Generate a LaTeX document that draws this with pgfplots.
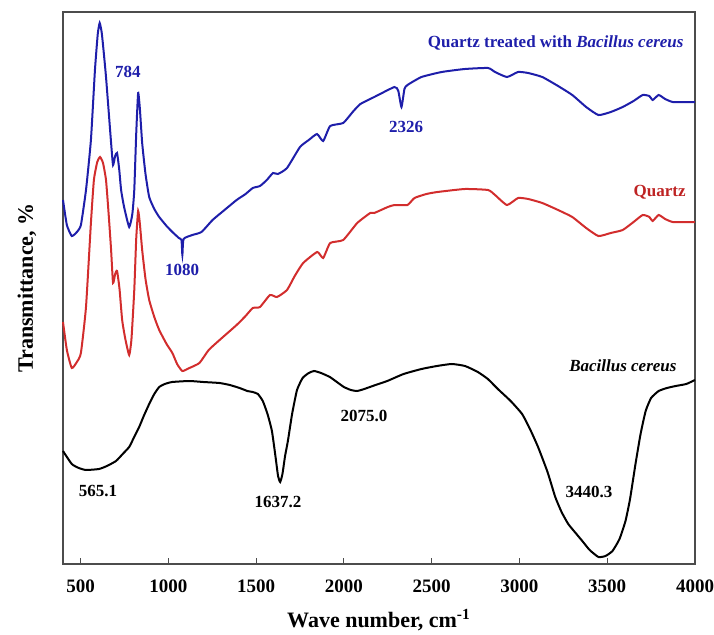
\documentclass[border=0pt]{standalone}
\usepackage{pgfplots}
\pgfplotsset{compat=1.18}
\usepackage{fontspec}
\setmainfont{Liberation Serif}
\definecolor{qblue}{RGB}{30,30,170}
\definecolor{qred}{RGB}{210,45,45}
\definecolor{qlabred}{RGB}{190,35,35}
\begin{document}
\begin{tikzpicture}
\useasboundingbox (-31.5pt,-35pt) rectangle (325.5pt,282pt);
\begin{axis}[
  at={(0pt,0pt)}, anchor=south west,
  scale only axis, width=316pt, height=276pt,
  xmin=400, xmax=4000, ymin=70, ymax=622,
  ytick=\empty,
  xtick={500,1000,...,4000},
  xtick pos=bottom,
  tick align=inside,
  major tick length=3pt,
  axis line style={black!70, line width=0.6pt},
  tick style={black!70, line width=0.6pt},
  /pgf/number format/1000 sep={},
  /pgf/number format/assume math mode=true,
  xticklabel style={font=\bfseries\fontsize{9.5}{10}\selectfont, anchor=center, yshift=-11pt},
  xlabel={Wave number, cm\textsuperscript{-1}},
  xlabel style={font=\bfseries\fontsize{11}{12}\selectfont, at={(axis description cs:0.5,0)}, anchor=center, yshift=-28pt},
  ylabel={Transmittance, \%},
  ylabel style={font=\bfseries\fontsize{11}{12}\selectfont, at={(axis description cs:-0.057,0.5)}, anchor=center},
  every axis plot/.append style={line width=1pt, smooth, tension=0.3},
  clip=false,
]
% Quartz treated with Bacillus cereus
\addplot[qblue] coordinates {
(400,434)(422,409)(450,398)(479,402)(502,409)(531,444)(559,494)(582,564)(598,600)(609,611)
(620,602)(628,589)(645,557)(674,491)(685,469)(697,478)(708,481)(720,465)(731,444)(748,427)
(777,407)(795,420)(806,444)(817,500)(828,541)(838,525)(851,491)(870,460)(891,437)(920,425)
(948,417)(990,408)(1023,402)(1060,396)(1075,394)(1080,379)(1087,395)(1137,399)(1189,402)(1252,414)
(1320,424)(1389,434)(1440,440)(1481,446)(1522,448)(1561,454)(1596,461)(1624,460)(1676,466)(1750,487)
(1800,494)(1847,500)(1882,493)(1922,508)(1996,511)(2050,522)(2094,530)(2173,537)(2288,547)(2310,543)
(2328,527)(2345,545)(2362,549)(2442,557)(2557,562)(2689,565)(2821,566)(2861,562)(2929,557)(2992,562)
(3050,561)(3130,557)(3220,548)(3301,539)(3380,527)(3450,519)(3520,522)(3588,527)(3650,533)(3702,539)
(3740,538)(3759,534)(3793,539)(3830,535)(3873,532)(3950,532)(4000,532)
};
% Quartz
\addplot[qred] coordinates {
(400,312)(422,284)(450,266)(479,272)(502,281)(531,327)(559,411)(576,454)(595,472)(611,477)
(628,471)(645,454)(660,420)(674,384)(685,351)(697,360)(708,363)(722,345)(737,314)(755,295)
(777,279)(790,295)(806,344)(817,395)(828,423)(838,410)(851,384)(870,355)(891,334)(920,317)
(948,304)(990,290)(1023,281)(1050,270)(1080,263)(1120,266)(1177,271)(1230,284)(1292,294)(1389,309)
(1440,318)(1481,326)(1522,327)(1579,339)(1619,337)(1676,344)(1720,358)(1768,371)(1848,382)(1882,376)
(1922,391)(1996,394)(2076,411)(2150,421)(2173,421)(2250,427)(2288,429)(2362,429)(2402,436)(2470,440)
(2533,442)(2689,445)(2821,444)(2861,439)(2929,429)(2992,436)(3050,435)(3130,431)(3220,424)(3301,417)
(3380,406)(3450,398)(3520,401)(3588,404)(3650,412)(3702,419)(3740,417)(3759,413)(3793,419)(3830,415)
(3873,412)(3950,412)(4000,412)
};
% Bacillus cereus
\addplot[black] coordinates {
(400,183)(450,170)(490,166)(531,164)(605,165)(650,168)(702,173)(740,180)(777,187)(800,195)
(834,207)(860,218)(891,230)(920,240)(948,247)(980,250)(1022,252)(1120,253)(1200,252)(1292,251)
(1350,249)(1406,246)(1450,243)(1481,242)(1510,240)(1538,233)(1565,220)(1590,203)(1610,178)(1625,158)
(1637,152)(1650,160)(1665,178)(1681,193)(1705,220)(1733,244)(1765,256)(1800,261)(1830,263)(1870,261)
(1920,257)(1960,252)(2000,247)(2040,244)(2075,243)(2116,245)(2180,249)(2247,253)(2340,260)(2442,265)
(2530,268)(2614,270)(2690,268)(2763,262)(2820,255)(2877,245)(2950,233)(3015,220)(3060,205)(3106,187)
(3160,162)(3204,137)(3240,122)(3278,110)(3320,101)(3358,93)(3400,84)(3450,77)(3490,78)(3530,83)
(3570,95)(3604,113)(3630,135)(3661,170)(3690,200)(3719,223)(3750,236)(3793,243)(3840,246)(3890,248)
(3950,250)(4000,254)
};
\tikzset{lab/.style={font=\bfseries\fontsize{8.5}{9}\selectfont, inner sep=0pt}}
\node[lab, qblue, anchor=east] at (axis cs:3937,591) {Quartz treated with \textit{Bacillus cereus}};
\node[lab, qlabred, anchor=east] at (axis cs:3949,442) {Quartz};
\node[lab, black, anchor=east] at (axis cs:3897,268) {\textit{Bacillus cereus}};
\node[lab, qblue] at (axis cs:770,562) {784};
\node[lab, qblue] at (axis cs:1078,364) {1080};
\node[lab, qblue] at (axis cs:2354,507) {2326};
\node[lab] at (axis cs:599,143) {565.1};
\node[lab] at (axis cs:1625,132) {1637.2};
\node[lab] at (axis cs:2115,218) {2075.0};
\node[lab] at (axis cs:3396,142) {3440.3};
\end{axis}
\end{tikzpicture}
\end{document}
